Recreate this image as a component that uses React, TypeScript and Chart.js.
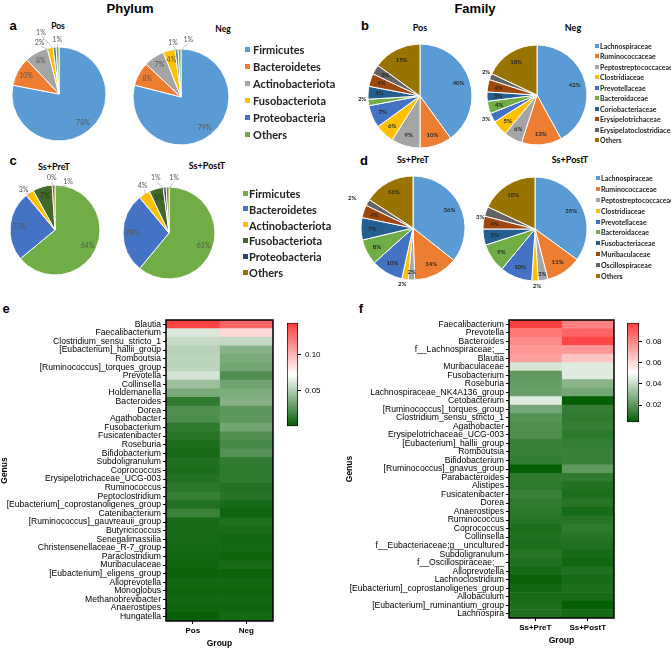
import React, { useEffect, useRef } from 'react';
import { Chart, registerables } from 'chart.js';
Chart.register(...registerables);

// ---------------- DATA ----------------
const phylumLabels = ['Firmicutes', 'Bacteroidetes', 'Actinobacteriota', 'Fusobacteriota', 'Proteobacteria', 'Others'];
const phylumPos = [78, 10, 8, 2, 1, 1];
const phylumNeg = [79, 8, 7, 4, 1, 1];
const phylumPre = [64, 25, 3, 7, 0, 1];
const phylumPost = [61, 28, 4, 5, 1, 1];

const familyLabelsB = ['Lachnospiraceae', 'Ruminococcaceae', 'Peptostreptococcaceae', 'Clostridiaceae', 'Prevotellaceae', 'Bacteroidaceae', 'Coriobacteriaceae', 'Erysipelotrichaceae', 'Erysipelatoclostridiaceae', 'Others'];
const familyPos = [40, 10, 9, 6, 7, 2, 4, 4, 3, 15];
const familyNeg = [42, 13, 6, 5, 3, 4, 3, 4, 2, 18];

const familyLabelsD = ['Lachnospiraceae', 'Ruminococcaceae', 'Peptostreptococcaceae', 'Clostridiaceae', 'Prevotellaceae', 'Bacteroidaceae', 'Fusobacteriaceae', 'Muribaculaceae', 'Oscillospiraceae', 'Others'];
const familyPre = [36, 14, 2, 2, 10, 8, 7, 4, 2, 16];
const familyPost = [35, 11, 3, 2, 10, 9, 5, 4, 3, 18];

const genusE = ['Blautia', 'Faecalibacterium', 'Clostridium_sensu_stricto_1', '[Eubacterium]_hallii_group', 'Romboutsia', '[Ruminococcus]_torques_group', 'Prevotella', 'Collinsella', 'Holdemanella', 'Bacteroides', 'Dorea', 'Agathobacter', 'Fusobacterium', 'Fusicatenibacter', 'Roseburia', 'Bifidobacterium', 'Subdoligranulum', 'Coprococcus', 'Erysipelotrichaceae_UCG-003', 'Ruminococcus', 'Peptoclostridium', '[Eubacterium]_coprostanoligenes_group', 'Catenibacterium', '[Ruminococcus]_gauvreauii_group', 'Butyricicoccus', 'Senegalimassilia', 'Christensenellaceae_R-7_group', 'Paraclostridium', 'Muribaculaceae', '[Eubacterium]_eligens_group', 'Alloprevotella', 'Monoglobus', 'Methanobrevibacter', 'Anaerostipes', 'Hungatella'];
const posE = [0.143, 0.062, 0.056, 0.052, 0.053, 0.053, 0.060, 0.044, 0.034, 0.013, 0.022, 0.021, 0.012, 0.010, 0.007, 0.0056, 0.0086, 0.007, 0.009, 0.011, 0.0145, 0.0086, 0.016, 0.0056, 0.006, 0.0055, 0.005, 0.004, 0.003, 0.002, 0.004, 0.003, 0.004, 0.003, 0.001];
const negE = [0.130, 0.087, 0.055, 0.038, 0.034, 0.032, 0.022, 0.031, 0.035, 0.037, 0.025, 0.026, 0.032, 0.022, 0.020, 0.023, 0.013, 0.012, 0.012, 0.0086, 0.010, 0.0056, 0.003, 0.008, 0.006, 0.004, 0.005, 0.003, 0.006, 0.002, 0.004, 0.003, 0.004, 0.003, 0.005];
const groupsE = ['Pos', 'Neg'];
const rangeE = [0, 0.145];
const cbarTicksE = [0.05, 0.10];

const genusF = ['Faecalibacterium', 'Prevotella', 'Bacteroides', 'f__Lachnospiraceae;__', 'Blautia', 'Muribaculaceae', 'Fusobacterium', 'Roseburia', 'Lachnospiraceae_NK4A136_group', 'Cetobacterium', '[Ruminococcus]_torques_group', 'Clostridium_sensu_stricto_1', 'Agathobacter', 'Erysipelotrichaceae_UCG-003', '[Eubacterium]_hallii_group', 'Romboutsia', 'Bifidobacterium', '[Ruminococcus]_gnavus_group', 'Parabacteroides', 'Alistipes', 'Fusicatenibacter', 'Dorea', 'Anaerostipes', 'Ruminococcus', 'Coprococcus', 'Collinsella', 'f__Eubacteriaceae;g__uncultured', 'Subdoligranulum', 'f__Oscillospiraceae;__', 'Alloprevotella', 'Lachnoclostridium', '[Eubacterium]_coprostanoligenes_group', 'Allobaculum', '[Eubacterium]_ruminantium_group', 'Lachnospira'];
const preF = [0.0966, 0.083, 0.079, 0.076, 0.074, 0.043, 0.021, 0.022, 0.023, 0.045, 0.025, 0.019, 0.018, 0.018, 0.014, 0.014, 0.013, 0.004, 0.012, 0.0115, 0.014, 0.012, 0.0115, 0.0105, 0.0086, 0.0096, 0.0086, 0.0105, 0.0096, 0.0076, 0.0048, 0.0067, 0.0076, 0.0086, 0.0096];
const postF = [0.081, 0.088, 0.095, 0.076, 0.065, 0.045, 0.045, 0.029, 0.025, 0.004, 0.0134, 0.0124, 0.0134, 0.0115, 0.013, 0.014, 0.014, 0.021, 0.012, 0.0096, 0.0086, 0.0105, 0.0076, 0.0105, 0.012, 0.0105, 0.0096, 0.0076, 0.0067, 0.0096, 0.0076, 0.0086, 0.0076, 0.004, 0.0076];
const groupsF = ['Ss+PreT', 'Ss+PostT'];
const rangeF = [0.004, 0.0975];
const cbarTicksF = [0.02, 0.04, 0.06, 0.08];

// ---------------- STYLES ----------------
const phylumColorsA = ['#5B9BD5', '#ED7D31', '#A5A5A5', '#FFC000', '#4472C4', '#70AD47'];
const phylumColorsC = ['#70AD47', '#4472C4', '#FFC000', '#43682B', '#264478', '#997300'];
const familyColors = ['#5B9BD5', '#ED7D31', '#A5A5A5', '#FFC000', '#4472C4', '#70AD47', '#255E91', '#9E480E', '#636363', '#997300'];
const LOW = [4, 94, 4];
const MID = [255, 255, 255];
const HIGH = [255, 61, 61];
const ARIAL = '"Liberation Sans", Arial, sans-serif';
const CAL = 'Lato, "Open Sans", sans-serif';

function mix(a: number[], b: number[], t: number) {
  return a.map((v, i) => Math.round(v + (b[i] - v) * t));
}
function heatColor(v: number, range: number[]) {
  let t = (v - range[0]) / (range[1] - range[0]);
  t = Math.max(0, Math.min(1, t));
  const c = t < 0.5 ? mix(LOW, MID, t / 0.5) : mix(MID, HIGH, (t - 0.5) / 0.5);
  return `rgb(${c[0]},${c[1]},${c[2]})`;
}

const pieLabelPlugin = {
  id: 'pieLabels',
  afterDatasetsDraw(chart: any) {
    const cfg = chart.options.plugins.pieLabels;
    if (!cfg) return;
    const ctx = chart.ctx;
    const meta = chart.getDatasetMeta(0);
    const vals = chart.data.datasets[0].data;
    meta.data.forEach((arc: any, i: number) => {
      const p = arc.getProps(['x', 'y', 'startAngle', 'endAngle', 'outerRadius'], true);
      const mid = (p.startAngle + p.endAngle) / 2;
      const text = vals[i] + '%';
      const out = cfg.outside[i];
      ctx.save();
      ctx.font = cfg.font;
      ctx.fillStyle = cfg.color;
      ctx.textAlign = 'center';
      ctx.textBaseline = 'middle';
      if (out) {
        const a = mid + (out.shift * Math.PI) / 180;
        const d = p.outerRadius + out.d;
        const lx = p.x + Math.cos(a) * d;
        const ly = p.y + Math.sin(a) * d;
        if (cfg.leader) {
          ctx.strokeStyle = '#A6A6A6';
          ctx.lineWidth = 0.7;
          ctx.beginPath();
          ctx.moveTo(p.x + Math.cos(mid) * (p.outerRadius - 3), p.y + Math.sin(mid) * (p.outerRadius - 3));
          ctx.lineTo(p.x + Math.cos(a) * (d - 4), p.y + Math.sin(a) * (d - 4));
          ctx.stroke();
        }
        ctx.fillText(text, lx, ly);
      } else {
        const d = p.outerRadius * (cfg.insideFrac[i] ?? cfg.inside);
        ctx.fillStyle = cfg.insideColor ? cfg.insideColor[i] ?? cfg.color : cfg.color;
        ctx.fillText(text, p.x + Math.cos(mid) * d, p.y + Math.sin(mid) * d);
      }
      ctx.restore();
    });
  },
};

const boxPlugin = {
  id: 'heatBox',
  afterDraw(chart: any) {
    const { ctx, chartArea } = chart;
    ctx.save();
    ctx.strokeStyle = '#000';
    ctx.lineWidth = 1.5;
    ctx.strokeRect(chartArea.left, chartArea.top, chartArea.right - chartArea.left, chartArea.bottom - chartArea.top);
    ctx.restore();
  },
};

type PieProps = {
  values: number[];
  labels: string[];
  colors: string[];
  cx: number;
  cy: number;
  r: number;
  labelCfg: any;
};

function Pie({ values, labels, colors, cx, cy, r, labelCfg }: PieProps) {
  const ref = useRef<HTMLCanvasElement>(null);
  const pad = 30;
  const size = 2 * (r + pad);
  useEffect(() => {
    const chart = new Chart(ref.current!, {
      type: 'pie',
      data: {
        labels,
        datasets: [{ data: values, backgroundColor: colors, borderColor: '#fff', borderWidth: 1, radius: r } as any],
      },
      options: {
        responsive: false,
        animation: false,
        plugins: { legend: { display: false }, tooltip: { enabled: false }, pieLabels: labelCfg } as any,
      },
      plugins: [pieLabelPlugin],
    });
    return () => chart.destroy();
  }, []);
  return (
    <canvas
      ref={ref}
      width={size}
      height={size}
      style={{ position: 'absolute', left: cx - size / 2, top: cy - size / 2, width: size, height: size }}
    />
  );
}

type HeatProps = {
  genera: string[];
  cols: number[][];
  groups: string[];
  range: number[];
  left: number;
  top: number;
  width: number;
  height: number;
  yWidth: number;
};

function Heatmap({ genera, cols, groups, range, left, top, width, height, yWidth }: HeatProps) {
  const ref = useRef<HTMLCanvasElement>(null);
  useEffect(() => {
    const chart = new Chart(ref.current!, {
      type: 'bar',
      data: {
        labels: genera,
        datasets: groups.map((g, gi) => ({
          label: g,
          data: cols[gi].map(() => [gi, gi + 1]),
          backgroundColor: cols[gi].map((v) => heatColor(v, range)),
          borderWidth: 0,
          grouped: false,
          barPercentage: 1,
          categoryPercentage: 1,
        })) as any,
      },
      options: {
        indexAxis: 'y',
        responsive: false,
        animation: false,
        layout: { padding: { top: 10, right: 1 } },
        plugins: { legend: { display: false }, tooltip: { enabled: false } },
        scales: {
          x: {
            type: 'linear',
            min: 0,
            max: 2,
            afterBuildTicks: (s: any) => {
              s.ticks = [{ value: 0.5 }, { value: 1.5 }];
            },
            afterFit: (s: any) => {
              s.height = 28;
            },
            ticks: {
              callback: (v: any) => groups[Math.floor(Number(v))],
              font: { family: ARIAL, size: 8, weight: 'bold' },
              color: '#000',
              padding: 2,
              maxRotation: 0,
            },
            grid: { drawOnChartArea: false, tickLength: 3, color: '#000' },
            border: { display: false },
            title: { display: true, text: 'Group', font: { family: ARIAL, size: 8.5, weight: 'bold' }, color: '#000', padding: 0 },
          },
          y: {
            type: 'category',
            offset: true,
            afterFit: (s: any) => {
              s.width = yWidth;
            },
            grid: { offset: false, drawOnChartArea: false, tickLength: 3, color: '#000' },
            ticks: { autoSkip: false, font: { family: ARIAL, size: 8.6 }, color: '#000', padding: 2 },
            border: { display: false },
            title: { display: true, text: 'Genus', font: { family: ARIAL, size: 8.5, weight: 'bold' }, color: '#000', padding: 0 },
          },
        } as any,
      },
      plugins: [boxPlugin],
    });
    return () => chart.destroy();
  }, []);
  return <canvas ref={ref} width={width} height={height} style={{ position: 'absolute', left, top, width, height }} />;
}

function ColorBar({ range, ticks, left, top, width, height }: { range: number[]; ticks: number[]; left: number; top: number; width: number; height: number }) {
  const ref = useRef<HTMLCanvasElement>(null);
  useEffect(() => {
    const chart = new Chart(ref.current!, {
      type: 'bar',
      data: {
        labels: ['scale'],
        datasets: [
          {
            data: [[range[0], range[1]]] as any,
            backgroundColor: (c: any) => {
              const area = c.chart.chartArea;
              if (!area) return '#fff';
              const g = c.chart.ctx.createLinearGradient(0, area.bottom, 0, area.top);
              g.addColorStop(0, `rgb(${LOW.join(',')})`);
              g.addColorStop(0.5, `rgb(${MID.join(',')})`);
              g.addColorStop(1, `rgb(${HIGH.join(',')})`);
              return g;
            },
            borderColor: '#000',
            borderWidth: 1,
            borderSkipped: false,
            barPercentage: 1,
            categoryPercentage: 1,
          } as any,
        ],
      },
      options: {
        responsive: false,
        animation: false,
        layout: { padding: { top: 5, bottom: 0, left: 0 } },
        plugins: { legend: { display: false }, tooltip: { enabled: false } },
        scales: {
          x: { display: false },
          y: {
            position: 'right',
            min: range[0],
            max: range[1],
            afterBuildTicks: (s: any) => {
              s.ticks = ticks.map((v) => ({ value: v }));
            },
            afterFit: (s: any) => {
              s.width = 30;
            },
            ticks: { callback: (v: any) => Number(v).toFixed(2), font: { family: ARIAL, size: 8 }, color: '#000', padding: 4 },
            grid: { drawOnChartArea: false, tickLength: 3, color: '#000' },
            border: { display: false },
          },
        } as any,
      },
    });
    return () => chart.destroy();
  }, []);
  return <canvas ref={ref} width={width} height={height} style={{ position: 'absolute', left, top, width, height }} />;
}

function Txt({ x, y, children, size, bold = true, family = ARIAL, anchor = 'center', color = '#000' }: any) {
  return (
    <div
      style={{
        position: 'absolute',
        left: x,
        top: y,
        transform: anchor === 'center' ? 'translate(-50%,-50%)' : 'translate(0,-50%)',
        whiteSpace: 'nowrap',
        fontFamily: family,
        fontSize: size,
        fontWeight: bold ? 700 : 400,
        color,
        lineHeight: 1,
      }}
    >
      {children}
    </div>
  );
}

function Legend({ labels, colors, x, textX, y0, dy, size, box }: any) {
  return (
    <>
      {labels.map((l: string, i: number) => (
        <React.Fragment key={l}>
          <div style={{ position: 'absolute', left: x, top: y0 + i * dy - box / 2, width: box, height: box, background: colors[i] }} />
          <Txt x={textX} y={y0 + i * dy} size={size} family={CAL} anchor="left" color="#222">
            {l}
          </Txt>
        </React.Fragment>
      ))}
    </>
  );
}

const smallA = { font: `7px ${CAL}`, color: '#595959', inside: 0.8, insideFrac: {}, leader: true };
const smallB = { font: `bold 6px ${CAL}`, color: '#262626', inside: 0.78, insideFrac: {}, leader: false };

export default function App() {
  return (
    <div style={{ position: 'absolute', left: 0, top: 0, width: 671, height: 649, background: '#fff', overflow: 'hidden' }}>
      <Txt x={130} y={8} size={13}>Phylum</Txt>
      <Txt x={475} y={8} size={13}>Family</Txt>
      <Txt x={13} y={25} size={13}>a</Txt>
      <Txt x={365} y={25} size={13}>b</Txt>
      <Txt x={13} y={160} size={13}>c</Txt>
      <Txt x={364} y={160} size={13}>d</Txt>
      <Txt x={6} y={308} size={13}>e</Txt>
      <Txt x={361} y={308} size={13}>f</Txt>

      <Txt x={58} y={26} size={8.5} family={CAL}>Pos</Txt>
      <Txt x={223} y={29} size={8.5} family={CAL}>Neg</Txt>
      <Txt x={420} y={27} size={9} family={CAL}>Pos</Txt>
      <Txt x={573} y={27} size={9} family={CAL}>Neg</Txt>
      <Txt x={54} y={166} size={9} family={CAL}>Ss+PreT</Txt>
      <Txt x={207} y={165} size={9} family={CAL}>Ss+PostT</Txt>
      <Txt x={413} y={159} size={9} family={CAL}>Ss+PreT</Txt>
      <Txt x={570} y={159} size={9} family={CAL}>Ss+PostT</Txt>

      <Pie values={phylumPos} labels={phylumLabels} colors={phylumColorsA} cx={59} cy={94} r={47}
        labelCfg={{ ...smallA, outside: { 3: { shift: -10, d: 8 }, 4: { shift: -11, d: 17 }, 5: { shift: 0, d: 7 } } }} />
      <Pie values={phylumNeg} labels={phylumLabels} colors={phylumColorsA} cx={181} cy={97} r={48}
        labelCfg={{ ...smallA, outside: { 4: { shift: -3, d: 7 }, 5: { shift: 9, d: 10 } } }} />
      <Pie values={phylumPre} labels={phylumLabels} colors={phylumColorsC} cx={55} cy={230} r={45}
        labelCfg={{ ...smallA, insideColor: { 3: '#2a3d1a' }, outside: { 2: { shift: -4, d: 6 }, 4: { shift: 0, d: 7 }, 5: { shift: 17, d: 5 } } }} />
      <Pie values={phylumPost} labels={phylumLabels} colors={phylumColorsC} cx={169} cy={233} r={46}
        labelCfg={{ ...smallA, insideColor: { 3: '#2a3d1a' }, outside: { 2: { shift: 3, d: 8 }, 4: { shift: -8, d: 11 }, 5: { shift: 7, d: 9 } } }} />

      <Pie values={familyPos} labels={familyLabelsB} colors={familyColors} cx={420} cy={96} r={52}
        labelCfg={{ ...smallB, outside: { 5: { shift: 4, d: 6 } } }} />
      <Pie values={familyNeg} labels={familyLabelsB} colors={familyColors} cx={537} cy={95} r={50}
        labelCfg={{ ...smallB, outside: { 4: { shift: 2, d: 6 }, 8: { shift: 3, d: 6 } } }} />
      <Pie values={familyPre} labels={familyLabelsD} colors={familyColors} cx={413} cy={228} r={52}
        labelCfg={{ ...smallB, insideFrac: { 2: 0.85 }, outside: { 3: { shift: 2, d: 5 }, 8: { shift: -3, d: 16 } } }} />
      <Pie values={familyPost} labels={familyLabelsD} colors={familyColors} cx={535} cy={229} r={52}
        labelCfg={{ ...smallB, insideFrac: { 2: 0.88 }, outside: { 3: { shift: -2, d: 5 }, 8: { shift: -8, d: 4 } } }} />

      <Legend labels={phylumLabels} colors={phylumColorsA} x={245} textX={253} y0={49} dy={17} size={11} box={5} />
      <Legend labels={phylumLabels} colors={phylumColorsC} x={243} textX={249} y0={193} dy={15.8} size={11} box={5} />
      <Legend labels={familyLabelsB} colors={familyColors} x={595} textX={600} y0={46} dy={10.45} size={7} box={4} />
      <Legend labels={familyLabelsD} colors={familyColors} x={596} textX={601} y0={178.3} dy={10.8} size={7} box={4} />

      <Heatmap genera={genusE} cols={[posE, negE]} groups={groupsE} range={rangeE} left={0} top={310} width={274} height={339} yWidth={166} />
      <ColorBar range={rangeE} ticks={cbarTicksE} left={287} top={314} width={41} height={121} />
      <Heatmap genera={genusF} cols={[preF, postF]} groups={groupsF} range={rangeF} left={345} top={310} width={270} height={336} yWidth={164} />
      <ColorBar range={rangeF} ticks={cbarTicksF} left={627} top={314} width={42} height={117} />
    </div>
  );
}
